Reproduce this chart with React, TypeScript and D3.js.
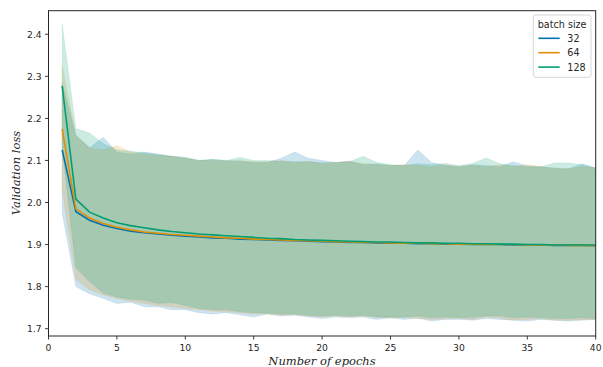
import React from "react";
import * as d3 from "d3";

const epochs = d3.range(1, 41);
const seriesNames = ["32", "64", "128"];
const colors = ["#0173b2", "#de8f05", "#029e73"];

const mean32 = [2.125, 1.978, 1.958, 1.946, 1.938, 1.932, 1.928, 1.925, 1.922, 1.92, 1.918, 1.916, 1.915, 1.913, 1.912, 1.911, 1.91, 1.909, 1.908, 1.907, 1.906, 1.905, 1.905, 1.904, 1.903, 1.903, 1.902, 1.902, 1.901, 1.901, 1.9, 1.9, 1.9, 1.899, 1.899, 1.899, 1.898, 1.898, 1.898, 1.897];
const mean64 = [2.175, 1.985, 1.963, 1.95, 1.941, 1.935, 1.93, 1.927, 1.924, 1.922, 1.92, 1.918, 1.916, 1.915, 1.913, 1.912, 1.911, 1.91, 1.909, 1.908, 1.907, 1.906, 1.905, 1.905, 1.904, 1.903, 1.903, 1.902, 1.902, 1.901, 1.901, 1.9, 1.9, 1.9, 1.899, 1.899, 1.899, 1.898, 1.898, 1.897];
const mean128 = [2.277, 2.008, 1.977, 1.963, 1.952, 1.945, 1.94, 1.935, 1.931, 1.928, 1.925, 1.923, 1.921, 1.919, 1.917, 1.915, 1.914, 1.912, 1.911, 1.91, 1.909, 1.908, 1.907, 1.906, 1.906, 1.905, 1.904, 1.904, 1.903, 1.903, 1.902, 1.902, 1.901, 1.901, 1.9, 1.9, 1.899, 1.899, 1.899, 1.899];

const upper32 = [2.285, 2.16, 2.13, 2.155, 2.12, 2.115, 2.12, 2.115, 2.11, 2.105, 2.1, 2.102, 2.1, 2.098, 2.095, 2.095, 2.105, 2.12, 2.105, 2.1, 2.095, 2.098, 2.09, 2.092, 2.088, 2.088, 2.125, 2.095, 2.088, 2.085, 2.09, 2.088, 2.085, 2.097, 2.087, 2.085, 2.082, 2.08, 2.092, 2.082];
const upper64 = [2.325, 2.16, 2.13, 2.125, 2.135, 2.12, 2.115, 2.112, 2.11, 2.105, 2.1, 2.1, 2.098, 2.1, 2.097, 2.097, 2.1, 2.095, 2.098, 2.092, 2.095, 2.098, 2.093, 2.09, 2.088, 2.09, 2.088, 2.085, 2.09, 2.085, 2.088, 2.085, 2.09, 2.085, 2.09, 2.085, 2.08, 2.08, 2.085, 2.082];
const upper128 = [2.424, 2.176, 2.165, 2.14, 2.125, 2.122, 2.118, 2.115, 2.11, 2.108, 2.1, 2.103, 2.1, 2.107, 2.1, 2.1, 2.098, 2.097, 2.097, 2.095, 2.095, 2.097, 2.11, 2.095, 2.09, 2.088, 2.092, 2.09, 2.093, 2.088, 2.093, 2.106, 2.092, 2.088, 2.085, 2.085, 2.094, 2.094, 2.09, 2.082];

const lower32 = [1.975, 1.8, 1.783, 1.772, 1.76, 1.763, 1.752, 1.752, 1.745, 1.745, 1.738, 1.735, 1.738, 1.733, 1.728, 1.735, 1.73, 1.732, 1.728, 1.724, 1.728, 1.726, 1.728, 1.722, 1.726, 1.722, 1.725, 1.718, 1.722, 1.722, 1.72, 1.724, 1.722, 1.72, 1.718, 1.722, 1.72, 1.718, 1.72, 1.722];
const lower64 = [2.03, 1.818, 1.792, 1.78, 1.772, 1.765, 1.76, 1.755, 1.752, 1.748, 1.745, 1.742, 1.74, 1.738, 1.735, 1.735, 1.732, 1.733, 1.73, 1.728, 1.73, 1.728, 1.73, 1.727, 1.725, 1.727, 1.725, 1.722, 1.724, 1.725, 1.722, 1.728, 1.725, 1.72, 1.722, 1.724, 1.72, 1.72, 1.722, 1.722];
const lower128 = [2.13, 1.845, 1.812, 1.785, 1.775, 1.77, 1.768, 1.76, 1.762, 1.755, 1.748, 1.745, 1.745, 1.74, 1.738, 1.737, 1.735, 1.735, 1.732, 1.73, 1.732, 1.73, 1.732, 1.728, 1.728, 1.727, 1.73, 1.726, 1.728, 1.726, 1.727, 1.73, 1.73, 1.726, 1.728, 1.726, 1.725, 1.724, 1.726, 1.724];

const xTicks = [0, 5, 10, 15, 20, 25, 30, 35, 40];
const yTicks = [1.7, 1.8, 1.9, 2.0, 2.1, 2.2, 2.3, 2.4];

const means = [mean32, mean64, mean128];
const uppers = [upper32, upper64, upper128];
const lowers = [lower32, lower64, lower128];

const W = 603, H = 367;
const L = 48.5, R = 595.7, T = 10.7, B = 336;
const ink = "#262626";

export default function App() {
  const x = d3.scaleLinear().domain([0, 40]).range([L, R]);
  const y = d3.scaleLinear().domain([1.6826, 2.456]).range([B, T]);

  const bandPath = (k: number) =>
    d3
      .area<number>()
      .x((_, i) => x(epochs[i]))
      .y0((_, i) => y(lowers[k][i]))
      .y1((_, i) => y(uppers[k][i]))(epochs) as string;

  const linePath = (k: number) =>
    d3
      .line<number>()
      .x((_, i) => x(epochs[i]))
      .y((d) => y(d))(means[k]) as string;

  const legX = 533.3, legY = 15, legW = 57.7, legH = 62.3;

  return (
    <svg
      width={W}
      height={H}
      style={{ position: "absolute", left: 0, top: 0, background: "#fff" }}
      fontFamily="'DejaVu Sans', sans-serif"
    >
      <rect x={0} y={0} width={W} height={H} fill="#fff" />
      <defs>
        <clipPath id="plotclip">
          <rect x={L} y={T} width={R - L} height={B - T} />
        </clipPath>
      </defs>
      <g clipPath="url(#plotclip)">
        {seriesNames.map((s, k) => (
          <path key={"b" + s} d={bandPath(k)} fill={colors[k]} fillOpacity={0.2} stroke={colors[k]} strokeOpacity={0.2} strokeWidth={0.5} />
        ))}
        {seriesNames.map((s, k) => (
          <path key={"l" + s} d={linePath(k)} fill="none" stroke={colors[k]} strokeWidth={1.6} />
        ))}
      </g>
      <rect x={L} y={T} width={R - L} height={B - T} fill="none" stroke={ink} strokeWidth={1} />
      {xTicks.map((t) => (
        <g key={"xt" + t}>
          <line x1={x(t)} x2={x(t)} y1={B} y2={B + 3.5} stroke={ink} strokeWidth={0.9} />
          <text x={x(t)} y={351} textAnchor="middle" fontSize={9.2} fill={ink}>
            {t}
          </text>
        </g>
      ))}
      {yTicks.map((t) => (
        <g key={"yt" + t}>
          <line x1={L - 3.5} x2={L} y1={y(t)} y2={y(t)} stroke={ink} strokeWidth={0.9} />
          <text x={L - 6.8} y={y(t) + 3.6} textAnchor="end" fontSize={9.2} fill={ink}>
            {t.toFixed(1)}
          </text>
        </g>
      ))}
      <text
        x={322}
        y={365}
        textAnchor="middle"
        fontSize={11.5}
        fontStyle="italic"
        fontFamily="'DejaVu Serif', serif"
        fill={ink}
      >
        Number of epochs
      </text>
      <text
        transform={`translate(19.5,173) rotate(-90)`}
        textAnchor="middle"
        fontSize={11.5}
        fontStyle="italic"
        fontFamily="'DejaVu Serif', serif"
        fill={ink}
      >
        Validation loss
      </text>
      <rect x={legX} y={legY} width={legW} height={legH} rx={2.5} fill="#fff" fillOpacity={0.8} stroke="#cccccc" strokeWidth={0.8} />
      <text x={legX + legW / 2} y={27.5} textAnchor="middle" fontSize={9.6} fill={ink}>
        batch size
      </text>
      {seriesNames.map((s, k) => {
        const ly = 38.3 + k * 14.4;
        return (
          <g key={"lg" + s}>
            <line x1={538.3} x2={559.7} y1={ly} y2={ly} stroke={colors[k]} strokeWidth={1.6} />
            <text x={567.3} y={ly + 3.5} fontSize={9.6} fill={ink}>
              {s}
            </text>
          </g>
        );
      })}
    </svg>
  );
}
